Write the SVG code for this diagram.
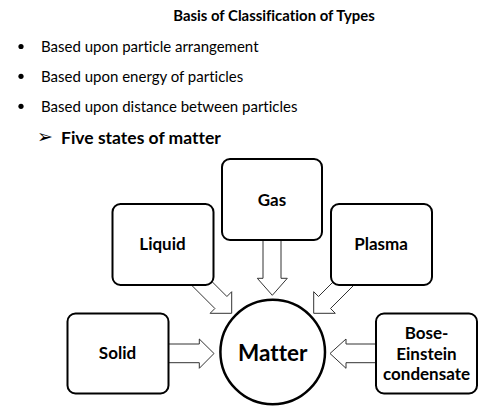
<svg xmlns="http://www.w3.org/2000/svg" width="490" height="412" viewBox="0 0 490 412">
<style>
text{font-family:Lato,"Liberation Sans",sans-serif;fill:#000;font-variant-ligatures:none}
.b{font-weight:bold}
.box{fill:#fff;stroke:#000;stroke-width:2}
.arr{fill:#fff;stroke:#333;stroke-width:1;stroke-linejoin:miter}
.lbl{font-size:17px;font-weight:bold;text-anchor:middle}
</style>
<rect width="490" height="412" fill="#fff"/>
<g id="header">
<text class="b" x="274" y="20.5" font-size="14.9" text-anchor="middle">Basis of Classification of Types</text>
<circle cx="21" cy="46.5" r="2.6"/>
<circle cx="21" cy="76.3" r="2.6"/>
<circle cx="21" cy="106.3" r="2.6"/>
<text x="41" y="52" font-size="15">Based upon particle arrangement</text>
<text x="41" y="82" font-size="15">Based upon energy of particles</text>
<text x="41" y="112" font-size="15">Based upon distance between particles</text>
<text x="37" y="143" font-size="19" font-family="DejaVu Sans">➢</text>
<text class="b" x="61" y="143.5" font-size="17.5">Five states of matter</text>
</g>
<g id="connectors">
<polygon class="arr" points="263,239 263,278.3 257.3,278.3 272.3,295.3 287.3,278.3 281,278.3 281,239"/>
<polygon class="arr" points="167,344 199.3,344 199.3,339 214,353.5 199.3,368.3 199.3,362.7 167,362.7"/>
<polygon class="arr" points="377,344 346,344 346,339 330,353.5 346,368.3 346,362.7 377,362.7"/>
<polygon class="arr" points="186.9,256.5 226.9,296.5 231.7,291.7 231.7,313.3 210.1,313.3 214.9,308.5 174.9,268.5"/>
<polygon class="arr" points="358.5,256.5 318.5,296.5 313.7,291.7 313.7,313.3 335.3,313.3 330.5,308.5 370.5,268.5"/>
</g>
<g id="gas"><rect class="box" x="222" y="159" width="100" height="81" rx="8"/><text class="lbl" x="272" y="206">Gas</text></g>
<g id="liquid"><rect class="box" x="112.5" y="204" width="101" height="81" rx="8"/><text class="lbl" x="162.5" y="250">Liquid</text></g>
<g id="plasma"><rect class="box" x="331" y="204" width="101" height="81" rx="8"/><text class="lbl" x="381" y="250">Plasma</text></g>
<g id="solid"><rect class="box" x="67.5" y="313.5" width="101" height="80" rx="8"/><text class="lbl" x="117.5" y="359">Solid</text></g>
<g id="bose"><rect class="box" x="376" y="313.5" width="101" height="80" rx="8"/>
<text class="lbl" x="426.5" y="339">Bose-</text>
<text class="lbl" x="426.5" y="359.5">Einstein</text>
<text class="lbl" x="426.5" y="380">condensate</text></g>
<g id="matter"><circle cx="272.7" cy="352" r="52.3" fill="#fff" stroke="#000" stroke-width="2.5"/><text class="b" x="272.7" y="361" font-size="22.5" text-anchor="middle">Matter</text></g>
</svg>
